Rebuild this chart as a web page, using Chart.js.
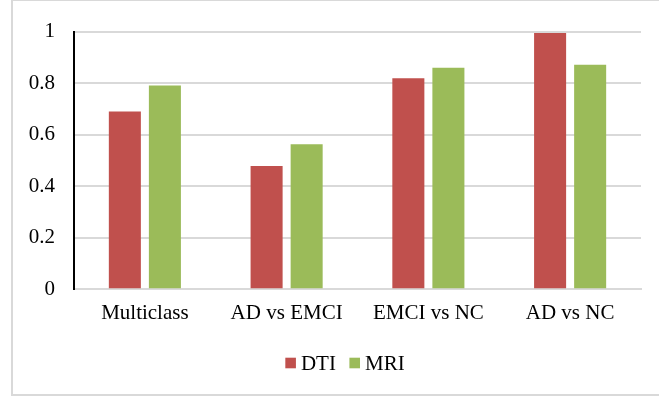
<!DOCTYPE html>
<html>
<head>
<meta charset="utf-8">
<script src="https://cdn.jsdelivr.net/npm/chart.js@4/dist/chart.umd.min.js"></script>
<style>
  html, body { margin: 0; padding: 0; background: #fff; }
  #wrap { position: relative; width: 659px; height: 398px; overflow: hidden; }
  #frame { position: absolute; left: 11px; top: -1px; width: 700px; height: 397px;
           border: 2px solid #d9d9d9; box-sizing: border-box; }
  canvas { position: absolute; left: 0; top: 0; }
</style>
</head>
<body>
<div id="wrap">
  <div id="frame"></div>
  <canvas id="c" width="659" height="398"></canvas>
</div>
<script>
// Classification accuracy per task, for DTI and MRI features
const categories = ['Multiclass', 'AD vs EMCI', 'EMCI vs NC', 'AD vs NC'];
const dtiValues = [0.69, 0.478, 0.819, 0.995];
const mriValues = [0.791, 0.563, 0.86, 0.871];
const yTicks = [0, 0.2, 0.4, 0.6, 0.8, 1];

const serif = 'Liberation Serif';

// Legend row under the axis: square swatch, small gap, series name
const legendRow = {
  id: 'legendRow',
  afterDraw(chart) {
    const ctx = chart.ctx;
    const font = '21px "' + serif + '"';
    const box = 10.6, gap = 5, spacing = 13.5;
    const centerX = 345, centerY = 363;
    ctx.save();
    ctx.font = font;
    const items = chart.data.datasets.map(ds => ({
      text: ds.label, color: ds.backgroundColor, w: ctx.measureText(ds.label).width
    }));
    const total = items.reduce((s, it) => s + box + gap + it.w, 0) + spacing * (items.length - 1);
    let x = centerX - total / 2;
    ctx.textBaseline = 'middle';
    ctx.textAlign = 'left';
    items.forEach(it => {
      ctx.fillStyle = it.color;
      ctx.fillRect(x, centerY - box / 2, box, box);
      ctx.fillStyle = '#000';
      ctx.fillText(it.text, x + box + gap, centerY + 1);
      x += box + gap + it.w + spacing;
    });
    ctx.restore();
  }
};

new Chart(document.getElementById('c'), {
  type: 'bar',
  data: {
    labels: categories,
    datasets: [
      { label: 'DTI', data: dtiValues, backgroundColor: '#C0504D',
        categoryPercentage: 0.565, barPercentage: 0.8 },
      { label: 'MRI', data: mriValues, backgroundColor: '#9BBB59',
        categoryPercentage: 0.565, barPercentage: 0.8 }
    ]
  },
  plugins: [legendRow],
  options: {
    responsive: false,
    animation: false,
    devicePixelRatio: 1,
    layout: { padding: { left: 0, right: 18, top: 17, bottom: 59.5 } },
    plugins: {
      tooltip: { enabled: false },
      legend: { display: false }
    },
    scales: {
      x: {
        grid: { display: false, drawTicks: false },
        border: { color: '#d9d9d9', width: 2 },
        ticks: { color: '#000', padding: 12, font: { family: serif, size: 21 } }
      },
      y: {
        min: 0, max: 1,
        afterFit: s => { s.width = 74; },
        afterBuildTicks: s => { s.ticks = yTicks.map(v => ({ value: v })); },
        grid: { color: '#d9d9d9', lineWidth: 2, drawTicks: false },
        border: { color: '#000', width: 2 },
        ticks: {
          color: '#000', padding: 19,
          font: { family: serif, size: 21 },
          callback: v => String(v)
        }
      }
    }
  }
});
</script>
</body>
</html>
